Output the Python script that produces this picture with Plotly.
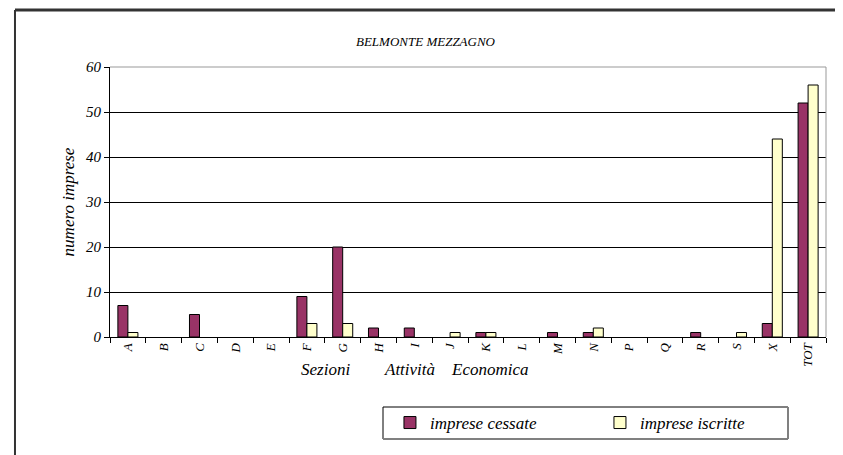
import plotly.graph_objects as go

# Sezioni di attivita economica
categories = ["A", "B", "C", "D", "E", "F", "G", "H", "I", "J",
              "K", "L", "M", "N", "P", "Q", "R", "S", "X", "TOT"]
cessate = [7, 0, 5, 0, 0, 9, 20, 2, 2, 0, 1, 0, 1, 1, 0, 0, 1, 0, 3, 52]
iscritte = [1, 0, 0, 0, 0, 3, 3, 0, 0, 1, 1, 0, 0, 2, 0, 0, 0, 1, 44, 56]

FONT = "Liberation Serif"


def no_zero(values):
    # zero bars are not drawn at all in the original (no outline)
    return [v if v else None for v in values]


fig = go.Figure()
fig.add_trace(go.Bar(x=categories, y=no_zero(cessate), name="imprese cessate",
                     marker=dict(color="#993366",
                                 line=dict(color="black", width=1))))
fig.add_trace(go.Bar(x=categories, y=no_zero(iscritte), name="imprese iscritte",
                     marker=dict(color="#FFFFCC",
                                 line=dict(color="black", width=1))))

# the page body has an 8px margin, so the figure is 8px smaller than the window
fig.update_layout(
    width=835, height=447,
    margin=dict(l=102, r=17, t=59, b=118, autoexpand=False),
    paper_bgcolor="white", plot_bgcolor="white",
    barmode="group", bargap=0.44, bargroupgap=0,
    font=dict(family=FONT, color="black", style="italic"),
    title=dict(text="BELMONTE MEZZAGNO", x=0.5, xanchor="center",
               y=0.925, yanchor="middle",
               font=dict(family=FONT, size=13, style="italic")),
    showlegend=True,
    legend=dict(orientation="h", x=0.391, xanchor="left",
                y=-0.3185, yanchor="middle", entrywidth=165,
                borderwidth=0, bgcolor="rgba(0,0,0,0)",
                font=dict(family=FONT, size=17, style="italic"),
                traceorder="normal"),
)

fig.update_xaxes(
    type="category", showline=True, linecolor="black", linewidth=1,
    ticks="outside", tickson="boundaries", ticklen=5, tickcolor="black",
    tickangle=-90, tickfont=dict(family=FONT, size=13, style="italic"),
    showgrid=False,
)
fig.update_yaxes(
    range=[0, 60], dtick=10, showline=True, linecolor="black",
    ticks="outside", ticklen=5, tickcolor="black",
    tickfont=dict(family=FONT, size=15, style="italic"),
    showgrid=True, gridcolor="black", gridwidth=1, zeroline=False,
    title=dict(text="numero imprese", standoff=6,
               font=dict(family=FONT, size=17, style="italic")),
)

# x axis title split in three words, as in the original
axis_words = ["Sezioni", "Attività", "Economica"]
word_x = [0.3003, 0.4176, 0.5307]
for word, wx in zip(axis_words, word_x):
    fig.add_annotation(text=word, xref="paper", yref="paper", x=wx, y=-0.122,
                       xanchor="center", yanchor="middle", showarrow=False,
                       font=dict(family=FONT, size=17, style="italic"))

# grey top/right frame of the plot area
fig.add_shape(type="line", xref="paper", yref="paper", x0=0, x1=1, y0=1, y1=1,
              line=dict(color="#999999", width=1), layer="above")
fig.add_shape(type="line", xref="paper", yref="paper", x0=1, x1=1, y0=0, y1=1,
              line=dict(color="#999999", width=1), layer="above")

# legend frame
fig.add_shape(type="rect", xref="paper", yref="paper",
              x0=0.3813, x1=0.9469, y0=-0.3778, y1=-0.2593,
              line=dict(color="black", width=1))
fig.add_shape(type="line", xref="paper", yref="paper",
              x0=0.9469, x1=0.9469, y0=-0.3778, y1=-0.2593,
              line=dict(color="#808080", width=2))
fig.add_shape(type="line", xref="paper", yref="paper",
              x0=0.3813, x1=0.9469, y0=-0.3778, y1=-0.3778,
              line=dict(color="#808080", width=2))

# outer chart border
fig.add_shape(type="line", xref="paper", yref="paper",
              x0=-0.1327, x1=1.018, y0=1.211, y1=1.211,
              line=dict(color="#333333", width=3))
fig.add_shape(type="line", xref="paper", yref="paper",
              x0=-0.1327, x1=-0.1327, y0=1.211, y1=-0.47,
              line=dict(color="#333333", width=2))
fig.add_shape(type="line", xref="paper", yref="paper",
              x0=1.018, x1=1.018, y0=1.211, y1=-0.47,
              line=dict(color="black", width=1))

fig.write_html("out.html")
